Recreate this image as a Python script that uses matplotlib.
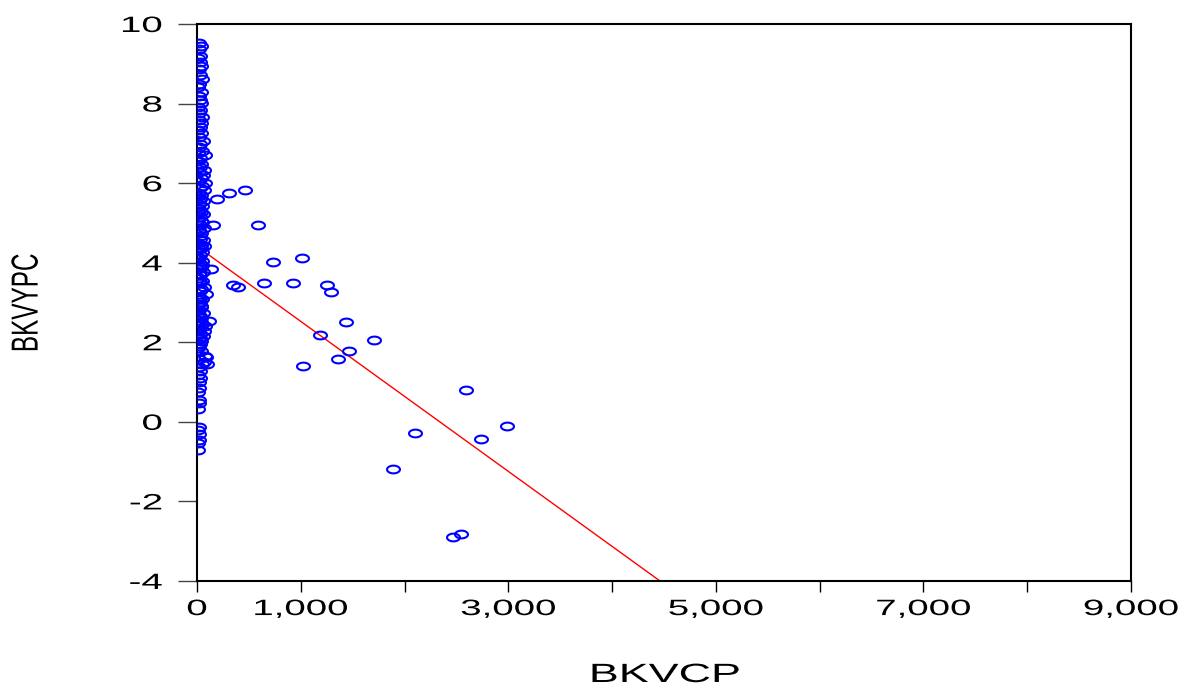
import numpy as np
import matplotlib
matplotlib.use("Agg")
import matplotlib.pyplot as plt
from matplotlib.path import Path
from matplotlib.transforms import Affine2D
from matplotlib.patheffects import AbstractPathEffect
from matplotlib.ticker import FixedLocator, FuncFormatter

# ---------------- data ----------------
# observations clustered near BKVCP = 0
cluster_x = [20, 35, 15, 30, 10, 25, 40, 15, 30, 45, 20, 10, 35, 15, 25, 40, 10, 30, 20, 45,
             15, 35, 25, 10, 40, 20, 55, 30, 15, 45, 75, 25, 10, 40, 70, 20, 60, 35, 15, 80,
             50, 25, 65, 10, 40, 30, 55, 20, 45, 15, 35, 60, 25, 10, 50, 30, 70, 15, 40, 25,
             55, 10, 35, 65, 20, 45, 30, 15, 50, 25, 40, 10, 60, 30, 20, 45, 15, 70, 35, 25,
             90, 10, 50, 30, 20, 40, 15, 60, 25, 35, 10, 45, 80, 20, 70, 30, 55, 15, 40, 25,
             10, 35, 80, 20, 70, 45, 15, 30, 10, 25, 15, 20, 10, 15, 20, 10, 15, 10, 20, 15,
             10, 5,
             30, 15, 40, 20, 25, 35, 10, 45, 20, 30, 15, 25, 40, 10, 35, 20, 30, 15, 25, 10]
cluster_y = [9.52, 9.45, 9.38, 9.20, 9.15, 9.05, 8.95, 8.88, 8.72, 8.62, 8.50, 8.42, 8.30, 8.18,
             8.10, 8.02, 7.92, 7.85, 7.76, 7.66, 7.58, 7.50, 7.41, 7.33, 7.25, 7.15, 7.05, 6.98,
             6.90, 6.82, 6.70, 6.62, 6.55, 6.48, 6.32, 6.28, 6.20, 6.12, 6.05, 6.00, 5.94, 5.88,
             5.82, 5.76, 5.70, 5.62, 5.55, 5.48, 5.42, 5.35, 5.28, 5.22, 5.15, 5.08, 5.02, 4.95,
             4.88, 4.82, 4.74, 4.66, 4.58, 4.50, 4.45, 4.42, 4.35, 4.28, 4.20, 4.12, 4.05, 3.98,
             3.90, 3.85, 3.76, 3.70, 3.62, 3.55, 3.48, 3.40, 3.35, 3.28, 3.22, 3.15, 3.10, 3.02,
             2.95, 2.88, 2.80, 2.74, 2.66, 2.60, 2.52, 2.46, 2.40, 2.35, 2.29, 2.22, 2.15, 2.08,
             2.03, 1.95, 1.85, 1.78, 1.66, 1.58, 1.50, 1.46, 1.38, 1.28, 1.18, 1.10, 1.00, 0.85,
             0.75, 0.55, 0.48, 0.32, -0.12, -0.20, -0.30, -0.45, -0.52, -0.70,
             5.60, 5.30, 5.05, 4.80, 4.60, 4.38, 4.15, 3.95, 3.72, 3.52, 3.32, 3.12, 2.92, 2.70,
             2.50, 2.30, 2.10, 1.90, 6.40, 6.75]

# observations spread out along BKVCP
spread_x = [192, 308, 462, 154, 587, 731, 1010, 346, 394, 644, 923, 1250, 1288, 135, 1433,
            1183, 1702, 1462, 1356, 1019, 2596, 2096, 2740, 2990, 1885, 2462, 2548, 115, 87, 100]
spread_y = [5.59, 5.74, 5.82, 4.96, 4.96, 4.03, 4.11, 3.43, 3.38, 3.50, 3.50, 3.43, 3.27, 3.83,
            2.52, 2.19, 2.07, 1.79, 1.59, 1.41, 0.81, -0.28, -0.43, -0.10, -1.18, -2.90, -2.82,
            2.54, 1.63, 1.46]

# fitted regression line  BKVYPC = a + b * BKVCP
fit_intercept = 4.41
fit_slope = -0.001885

x_ticks_major = [0, 1000, 3000, 5000, 7000, 9000]
x_ticks_minor = [2000, 4000, 6000, 8000]
y_ticks = [-4, -2, 0, 2, 4, 6, 8, 10]
x_label = "BKVCP"
y_label = "BKVYPC"

# ---------------- helpers ----------------
class Stretch(AbstractPathEffect):
    """Scale glyph outlines (in text space) around an anchor."""
    def __init__(self, sx=1.0, sy=1.0, anchor="center"):
        super().__init__()
        self.sx, self.sy, self.anchor = sx, sy, anchor

    def draw_path(self, renderer, gc, tpath, affine, rgbFace=None):
        ext = tpath.get_extents()
        if self.anchor == "right":
            cx = ext.x1
        elif self.anchor == "left":
            cx = ext.x0
        else:
            cx = 0.5 * (ext.x0 + ext.x1)
        cy = 0.5 * (ext.y0 + ext.y1)
        t = Affine2D().translate(-cx, -cy).scale(self.sx, self.sy).translate(cx, cy)
        renderer.draw_path(gc, tpath, t + affine, rgbFace)

theta = np.linspace(0, 2 * np.pi, 60)
ellipse = Path(np.column_stack([np.cos(theta), 0.6 * np.sin(theta)]), closed=True)

FONT = "Liberation Sans"
plt.rcParams["font.family"] = [FONT, "DejaVu Sans"]

# ---------------- figure ----------------
W, H = 1195, 693
fig = plt.figure(figsize=(W / 100, H / 100), dpi=100)
ax = fig.add_axes([197 / W, 1 - 581 / H, (1131 - 197) / W, (581 - 24) / H])

mk = dict(linestyle="none", marker=ellipse, markersize=9.3, markerfacecolor="none",
          markeredgecolor="#0000ff", markeredgewidth=1.5, zorder=3)
ax.plot(cluster_x, cluster_y, **mk)
ax.plot(spread_x, spread_y, **mk)

line_x = np.array([0, 9000])
ax.plot(line_x, fit_intercept + fit_slope * line_x, color="#ff0000", lw=1.0, zorder=2)

ax.set_xlim(0, 9000)
ax.set_ylim(-4, 10)

for s in ax.spines.values():
    s.set_linewidth(1.5)
    s.set_color("black")

ax.xaxis.set_major_locator(FixedLocator(x_ticks_major))
ax.xaxis.set_minor_locator(FixedLocator(x_ticks_minor))
ax.xaxis.set_major_formatter(FuncFormatter(lambda v, p: f"{int(v):,}"))
ax.yaxis.set_major_locator(FixedLocator(y_ticks))
ax.yaxis.set_major_formatter(FuncFormatter(lambda v, p: f"{int(v)}"))

ax.tick_params(axis="x", which="both", direction="out", length=8, width=1.0,
               color="black", pad=5, labelsize=16)
ax.tick_params(axis="y", which="major", direction="out", length=14, width=1.0,
               color="#444444", pad=11, labelsize=16)
ax.tick_params(axis="y", which="minor", left=False)

for lab in ax.get_xticklabels():
    lab.set_path_effects([Stretch(1.73, 1.0, "center")])
for lab in ax.get_yticklabels():
    lab.set_path_effects([Stretch(1.73, 1.0, "right")])

fig.text(665 / W, 1 - 675 / H, x_label, ha="center", va="center", fontsize=19,
         path_effects=[Stretch(1.7, 1.0)])
fig.text(27 / W, 1 - 303 / H, y_label, ha="center", va="center", rotation=90,
         fontsize=17.5, path_effects=[Stretch(1.0, 1.55)])

fig.savefig("out.png", dpi=100, facecolor="white")
